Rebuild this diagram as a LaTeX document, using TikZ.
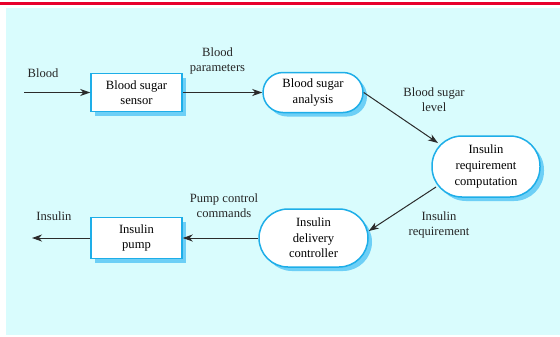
\documentclass[tikz,border=0pt]{standalone}
\usepackage{fontspec}
\setmainfont{Liberation Serif}
\usetikzlibrary{arrows.meta,shadows,calc}
\definecolor{bgcyan}{HTML}{D9FCFD}
\definecolor{nodeblue}{HTML}{1EAEE8}
\definecolor{shadowblue}{HTML}{6DCFF6}
\definecolor{topred}{HTML}{E8002C}
\definecolor{linegray}{HTML}{2B2B2B}
\begin{document}
\begin{tikzpicture}[x=1bp,y=-1bp,
  font=\fontsize{12.6bp}{15.6bp}\selectfont,
  boxbase/.style={draw=nodeblue, line width=1.5bp, fill=white, align=center, inner sep=0pt,
    general shadow={fill=shadowblue, shadow xshift=4bp, shadow yshift=-4bp}},
  sq/.style={boxbase},
  pill/.style={boxbase},
  lbl/.style={align=center, inner sep=0pt, text=black!85},
  arr/.style={draw=linegray, line width=1bp, -{Stealth[length=10bp,width=7bp,inset=3bp]}}]
\useasboundingbox (0,0) rectangle (560,336);
\fill[bgcyan] (6,8) rectangle (560,335);
\fill[topred] (0,2) rectangle (560,5.3);

\node[sq, minimum width=91bp, minimum height=38bp] (sensor) at (136.5,92.5) {Blood sugar\\sensor};
\node[pill, minimum width=100bp, minimum height=40bp, rounded corners=20bp] (analysis) at (313,92.5) {Blood sugar\\analysis};
\node[pill, minimum width=108bp, minimum height=61bp, rounded corners=30bp] (irc) at (486,166.5) {Insulin\\requirement\\computation};
\node[pill, minimum width=109bp, minimum height=58bp, rounded corners=29bp] (idc) at (313.5,238) {Insulin\\delivery\\controller};
\node[sq, minimum width=91bp, minimum height=41bp] (pump) at (136.5,238) {Insulin\\pump};

\coordinate (bloodin) at (24,92.5);
\coordinate (insout) at (32,238);

\node[lbl] (lblood) at (43,73) {Blood};
\node[lbl] (lparam) at (217.5,61) {Blood\\parameters};
\node[lbl] (llevel) at (434,99.5) {Blood sugar\\level};
\node[lbl] (lreq) at (439,225) {Insulin\\requirement};
\node[lbl] (lcmd) at (224,205.5) {Pump control\\commands};
\node[lbl] (lins) at (54,216) {Insulin};

\draw[arr] (bloodin) -- (sensor.west);
\draw[arr] (sensor.east) -- (analysis.west);
\draw[arr] (analysis.east) -- ($(irc.center)+(-48,-23.5)$);
\draw[arr] ($(irc.center)+(-50,20.5)$) -- ($(idc.east)+(0,-7)$);
\draw[arr] (idc.west) -- (pump.east);
\draw[arr] (pump.west) -- (insout);
\end{tikzpicture}
\end{document}
